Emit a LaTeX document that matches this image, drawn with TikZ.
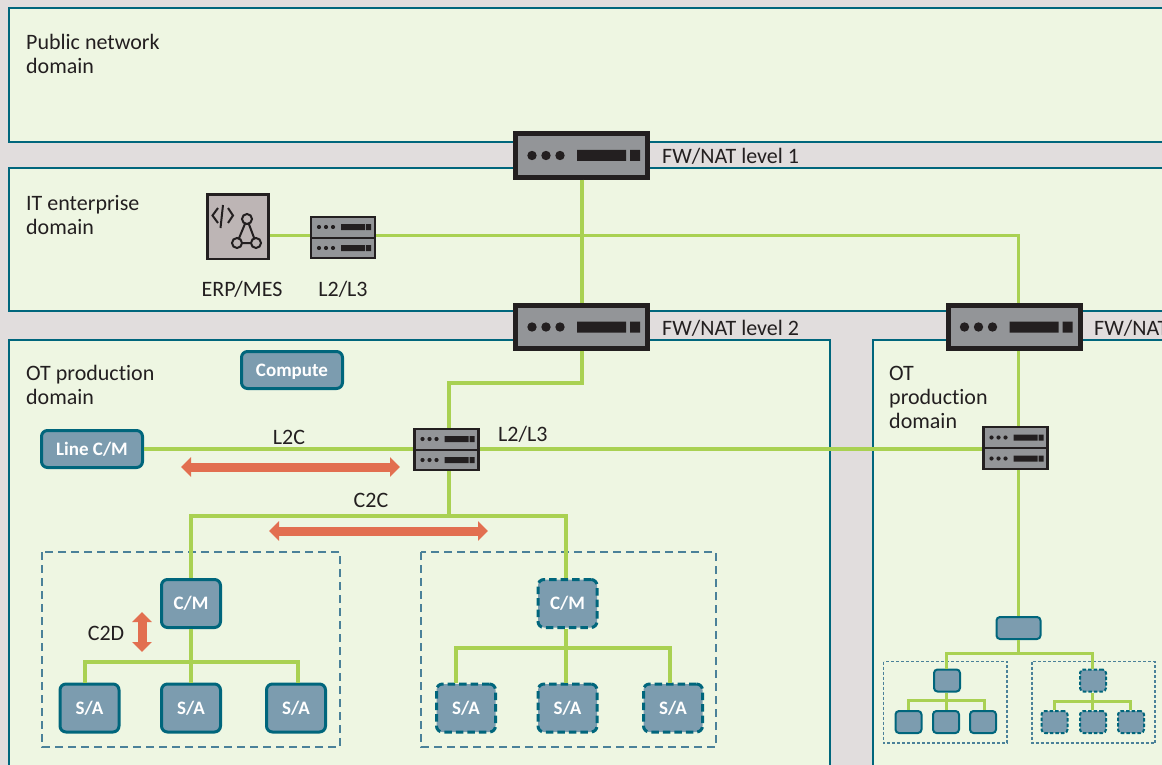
\documentclass[tikz,border=0pt]{standalone}
\usepackage{fontspec}
\setmainfont[Ligatures=NoCommon]{Carlito}
\usetikzlibrary{arrows.meta}
\definecolor{gapgrey}{HTML}{E1DDDD}
\definecolor{domfill}{HTML}{EEF6E2}
\definecolor{domline}{HTML}{00667C}
\definecolor{linkgreen}{HTML}{A9D152}
\definecolor{ink}{HTML}{231F20}
\definecolor{unit}{HTML}{939598}
\definecolor{erpfill}{HTML}{BDB5B5}
\definecolor{nodefill}{HTML}{7C9CAF}
\definecolor{dashline}{HTML}{4A8199}
\definecolor{flow}{HTML}{E26F50}

\begin{document}
\begin{tikzpicture}[x=1pt,y=-1pt]
\tikzstyle{netzone}=[draw=domline,line width=2.8pt,fill=domfill];
\tikzstyle{lab}=[inner sep=0pt,text=ink,font=\fontsize{22}{24}\selectfont,align=left];
\tikzstyle{link}=[draw=linkgreen,line width=3.8pt];
\tikzstyle{linkthin}=[draw=linkgreen,line width=3pt];
\tikzstyle{biarrow}=[draw=flow,line width=9pt,{Triangle[width=19pt,length=10pt]}-{Triangle[width=19pt,length=10pt]}];
\tikzstyle{fwnat}=[draw=ink,line width=5pt,fill=unit,inner sep=0pt,minimum width=132pt,minimum height=43pt,
  path picture={\fill [ink,shift={(path picture bounding box.center)}] (-49.5,0) circle (4.7) (-35.5,0) circle (4.7) (-21.5,0) circle (4.7)
    (-4.5,-5.5) rectangle (44.5,5.5) (48.5,-5.5) rectangle (58.5,5.5);}];
\tikzstyle{srv}=[draw=ink,line width=2.2pt,fill=unit,inner sep=0pt,minimum width=64pt,minimum height=41.5pt,
  path picture={\draw [ink,line width=2pt,shift={(path picture bounding box.center)}] (-33,0) -- (33,0);
    \foreach \s in {-10.5,10.5} {\fill [ink,shift={(path picture bounding box.center)}] (-24,\s) circle (2.1) (-17,\s) circle (2.1) (-10,\s) circle (2.1)
      (-2,\s-3) rectangle (22,\s+3) (23,\s-3) rectangle (28,\s+3);}}];
\tikzstyle{ctl}=[draw=domline,line width=3pt,fill=nodefill,rounded corners=6pt,inner sep=0pt,text=white,text height=12pt,text depth=0pt,font=\fontsize{19}{22}\selectfont\bfseries];
\tikzstyle{wide}=[ctl,minimum width=101pt,minimum height=37pt];
\tikzstyle{dev}=[ctl,minimum width=59pt,minimum height=48pt];
\tikzstyle{devd}=[dev,dash pattern=on 7.5pt off 4pt];
\tikzstyle{mini}=[ctl,line width=2pt,rounded corners=3.5pt,minimum width=26pt,minimum height=22pt];
\tikzstyle{minid}=[mini,dash pattern=on 3.5pt off 2pt];
\tikzstyle{groupbox}=[draw=dashline,line width=2.8pt,dash pattern=on 8pt off 5pt];
\tikzstyle{groupmini}=[draw=dashline,line width=1.4pt,dash pattern=on 3pt off 2pt];
\useasboundingbox (0,0) rectangle (1162,765);
\clip (0,0) rectangle (1162,765);
\fill [gapgrey] (0,0) rectangle (1162,765);
\draw [netzone] (9,8) rectangle (1180,142);
\draw [netzone] (9,168) rectangle (1180,311);
\draw [netzone] (9,340) rectangle (830,790);
\draw [netzone] (873,340) rectangle (1180,790);
\draw [groupbox] (42,552) rectangle (340,747);
\draw [groupbox] (421,552) rectangle (716,747);
\draw [groupmini] (883.5,661.5) rectangle (1007,743);
\draw [groupmini] (1032,661.5) rectangle (1155,743);
\node [lab,anchor=north west] (pubtext) at (26,34) {Public network\\domain};
\node [lab,anchor=north west] (ittext) at (26,195) {IT enterprise\\domain};
\node [lab,anchor=north west] (ottext) at (26,365) {OT production\\domain};
\node [lab,anchor=north west] (ot2text) at (889,366) {OT\\production\\domain};
\node [fwnat] (fw1) at (581.5,155.5) {};
\node [fwnat] (fw2) at (581.5,327) {};
\node [fwnat] (fw3) at (1014,327) {};
\node [lab,anchor=base west] (fw1text) at (662,164) {FW/NAT level 1};
\node [lab,anchor=base west] (fw2text) at (662,335) {FW/NAT level 2};
\node [lab,anchor=base west] (fw3text) at (1094,335) {FW/NAT};
\node [draw=ink,line width=2.5pt,fill=erpfill,inner sep=0pt,minimum width=61pt,minimum height=64.5pt] (erp) at (238,226.5) {};
\draw [ink,line width=2pt] (218,208) -- (212.5,215.5) -- (218,223);
\draw [ink,line width=2pt] (223,205) -- (220.5,228);
\draw [ink,line width=2pt] (228,208) -- (233,215.5) -- (228,223);
\draw [ink,line width=2pt] (247,219) -- (237,243) -- (256,243) -- cycle;
\foreach \p in {(247,219),(237,243),(256,243)} \draw [ink,line width=2pt,fill=erpfill] \p circle (5);
\node [srv] (srvit) at (343,237.5) {};
\node [srv] (srvot) at (446.5,449.5) {};
\node [srv] (srvot2) at (1015.5,448) {};
\node [lab,anchor=base] (erptext) at (242,296) {ERP/MES};
\node [lab,anchor=base] (srvittext) at (343,296) {L2/L3};
\node [lab,anchor=base west] (srvottext) at (498,441) {L2/L3};
\node [lab,anchor=base] (l2ctext) at (289,444) {L2C};
\node [lab,anchor=base] (c2ctext) at (371,507) {C2C};
\node [lab,anchor=base] (c2dtext) at (106,640) {C2D};
\node [wide] (compute) at (292,370) {Compute};
\node [wide] (linecm) at (92,449) {Line C/M};
\node [dev] (cm1) at (191,603.5) {C/M};
\node [dev] (sa11) at (89.5,708) {S/A};
\node [dev] (sa12) at (191,708) {S/A};
\node [dev] (sa13) at (296,708) {S/A};
\node [devd] (cm2) at (567.5,603.5) {C/M};
\node [devd] (sa21) at (466,708) {S/A};
\node [devd] (sa22) at (567.5,708) {S/A};
\node [devd] (sa23) at (673,708) {S/A};
\node [mini,minimum width=44pt] (top3) at (1018.5,628) {};
\node [mini] (cm3) at (947,680.5) {};
\node [mini] (sa31) at (908.5,722) {};
\node [mini] (sa32) at (946,722) {};
\node [mini] (sa33) at (983,722) {};
\node [minid] (cm4) at (1093,680.5) {};
\node [minid] (sa41) at (1054.5,722) {};
\node [minid] (sa42) at (1093,722) {};
\node [minid] (sa43) at (1131,722) {};
\coordinate (up1) at (582,383);
\coordinate (up2) at (449,383);
\coordinate (bus) at (449,516);
\coordinate (busl) at (191,516);
\coordinate (busr) at (566,516);
\coordinate (g1) at (85,662);
\coordinate (g1r) at (298,662);
\coordinate (g2) at (456,648);
\coordinate (g2r) at (670,648);
\coordinate (t3) at (1018,653);
\coordinate (t3l) at (946,653);
\coordinate (t3r) at (1092,653);
\coordinate (g3) at (908,700);
\coordinate (g3r) at (984,700);
\coordinate (g4) at (1054,701);
\coordinate (g4r) at (1130,701);
\coordinate (itr) at (1018,235);
\coordinate (trunk) at (700,449);
\draw [link] (fw1.south -| up1) -- (fw2.north -| up1);
\draw [linkthin] (erp.east |- itr) -- (srvit.west |- itr);
\draw [linkthin] (srvit.east |- itr) -- (itr) -- (fw3.north -| itr);
\draw [link] (fw2.south -| up1) -- (up1) -- (up2) -- (srvot.north -| up2);
\draw [link] (linecm.east |- trunk) -- (srvot.west |- trunk);
\draw [link] (srvot.east |- trunk) -- (srvot2.west |- trunk);
\draw [linkthin] (fw3.south -| itr) -- (srvot2.north -| itr);
\draw [linkthin] (srvot2.south -| itr) -- (top3.north -| itr);
\draw [link] (srvot.south -| bus) -- (bus);
\draw [link] (cm1.north -| busl) -- (busl) -- (busr) -- (cm2.north -| busr);
\draw [link] (cm1) -- (sa12);
\draw [link] (sa11.north -| g1) -- (g1) -- (g1r) -- (sa13.north -| g1r);
\draw [link] (cm2.south -| busr) -- (sa22.north -| busr);
\draw [link] (sa21.north -| g2) -- (g2) -- (g2r) -- (sa23.north -| g2r);
\draw [linkthin] (top3.south -| t3) -- (t3);
\draw [linkthin] (cm3.north -| t3l) -- (t3l) -- (t3r) -- (cm4.north -| t3r);
\draw [linkthin] (cm3.south -| sa32) -- (sa32.north);
\draw [linkthin] (sa31.north -| g3) -- (g3) -- (g3r) -- (sa33.north -| g3r);
\draw [linkthin] (cm4.south -| t3r) -- (sa42.north -| t3r);
\draw [linkthin] (sa41.north -| g4) -- (g4) -- (g4r) -- (sa43.north -| g4r);
\coordinate (l2ca) at (181,467);
\coordinate (l2cb) at (400,467);
\coordinate (c2ca) at (269,531);
\coordinate (c2cb) at (488,531);
\coordinate (c2da) at (142,612);
\coordinate (c2db) at (142,652);
\draw [biarrow] (l2ca) -- (l2cb);
\draw [biarrow] (c2ca) -- (c2cb);
\draw [biarrow] (c2da) -- (c2db);
\end{tikzpicture}
\end{document}
